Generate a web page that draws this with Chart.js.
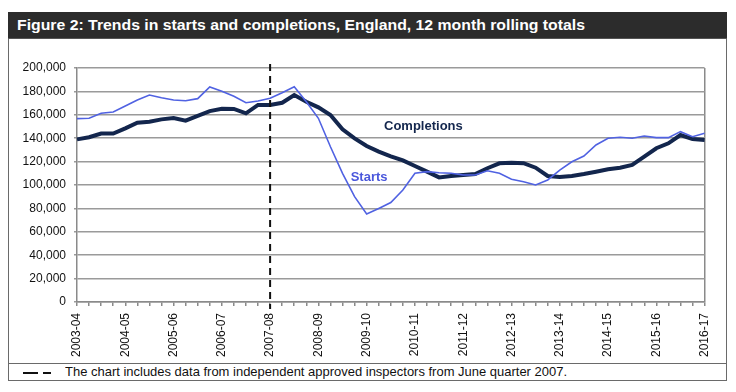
<!DOCTYPE html>
<html>
<head>
<meta charset="utf-8">
<script src="https://cdn.jsdelivr.net/npm/chart.js@4.4.0/dist/chart.umd.min.js"></script>
<style>
    body { margin: 0; background: #fff; width: 736px; height: 392px; overflow: hidden; font-family: "Liberation Sans", Arial, sans-serif; }
    #frame { position: absolute; left: 8px; top: 12px; width: 717px; height: 367px; border: 1px solid #6a6a6a; }
    #titleBar { position: absolute; left: 8px; top: 12px; width: 719px; height: 26px; background: #2c2c2c; border-bottom: 1px solid #555; }
    #titleText { position: absolute; left: 17px; top: 16px; color: #fff; font-weight: bold; font-size: 15px; white-space: nowrap; transform-origin: 0 0; }
    #divider { position: absolute; left: 8px; top: 363px; width: 719px; height: 0; border-top: 1px solid #6a6a6a; }
    #note { position: absolute; left: 65px; top: 364px; font-size: 13px; color: #111; white-space: nowrap; transform-origin: 0 0; }
    .dash { position: absolute; top: 372px; height: 2px; background: #111; }
    #chartBox { position: absolute; left: 9px; top: 38px; }
</style>
</head>
<body>
<div id="frame"></div>
<div id="titleBar"></div>
<div id="titleText">Figure 2: Trends in starts and completions, England, 12 month rolling totals</div>
<div id="chartBox"><canvas id="trendChart" width="717" height="325"></canvas></div>
<div id="divider"></div>
<div class="dash" style="left:23px;width:15px"></div>
<div class="dash" style="left:43px;width:8px"></div>
<div id="note">The chart includes data from independent approved inspectors from June quarter 2007.</div>
<script>
// financial years, one tick label every four quarters
const yearLabels = ['2003-04', '2004-05', '2005-06', '2006-07', '2007-08', '2008-09', '2009-10',
    '2010-11', '2011-12', '2012-13', '2013-14', '2014-15', '2015-16', '2016-17'];

// 12 month rolling totals, quarterly
const completions = [
    139000, 140800, 144000, 144000, 148400, 153300, 154000, 156100, 157300, 155000,
    159000, 163200, 165200, 165000, 161300, 168400, 168400, 170300, 176900, 171200,
    166400, 159800, 147600, 139900, 133300, 128500, 124500, 121000, 116200, 111400,
    106500, 107700, 108500, 109400, 114300, 118500, 119000, 118600, 114800, 107700,
    106800, 107700, 109400, 111400, 113400, 114800, 117100, 124200, 131400, 135600,
    142700, 139300, 138500
];
const starts = [
    156700, 157000, 161300, 162400, 167500, 172600, 176900, 174600, 172600, 172000,
    173800, 183800, 180200, 175800, 170300, 171800, 174100, 178900, 184000, 171200,
    157000, 132700, 110000, 90000, 75200, 80000, 85000, 95700, 110000, 111400,
    110500, 110000, 108500, 108500, 112200, 110000, 104900, 102800, 100000, 104300,
    112800, 119900, 124800, 134200, 139900, 140800, 139900, 141900, 140500, 140500,
    145600, 141300, 144200
];

const quarterLabels = completions.map((v, i) => yearLabels[Math.floor(i / 4)] + ' Q' + (i % 4 + 1));
const aiStartIndex = 16; // June quarter 2007

const seriesNotes = [
    { text: 'Completions', index: 28.7, value: 150400, color: '#13264d' },
    { text: 'Starts', index: 24.2, value: 106800, color: '#4a57dc' }
];

function fitWidth(id, target) {
    const el = document.getElementById(id);
    const w = el.getBoundingClientRect().width;
    el.style.transform = 'scaleX(' + (target / w) + ')';
}
fitWidth('titleText', 568);
fitWidth('note', 502);

const overlay = {
    id: 'overlay',
    afterDatasetsDraw(chart) {
        const { ctx, chartArea, scales } = chart;
        const x = scales.x.getPixelForValue(aiStartIndex);
        ctx.save();
        ctx.strokeStyle = '#111';
        ctx.lineWidth = 2;
        ctx.setLineDash([7, 5]);
        ctx.beginPath();
        ctx.moveTo(x, chartArea.top - 4);
        ctx.lineTo(x, chartArea.bottom + 7);
        ctx.stroke();
        ctx.setLineDash([]);
        ctx.font = 'bold 13px "Liberation Sans", Arial, sans-serif';
        ctx.textAlign = 'center';
        ctx.textBaseline = 'middle';
        seriesNotes.forEach(n => {
            const left = scales.x.getPixelForValue(Math.floor(n.index));
            const right = scales.x.getPixelForValue(Math.floor(n.index) + 1);
            const px = left + (right - left) * (n.index - Math.floor(n.index));
            ctx.fillStyle = n.color;
            ctx.fillText(n.text, px, scales.y.getPixelForValue(n.value));
        });
        ctx.restore();
    }
};

const lastIndex = quarterLabels.length - 1;

new Chart(document.getElementById('trendChart').getContext('2d'), {
    type: 'line',
    data: {
        labels: quarterLabels,
        datasets: [
            { label: 'Starts', data: starts, borderColor: '#5062e2', borderWidth: 1.6, pointRadius: 0, tension: 0, fill: false },
            { label: 'Completions', data: completions, borderColor: '#13264d', borderWidth: 4, pointRadius: 0, tension: 0, fill: false }
        ]
    },
    options: {
        responsive: false,
        animation: false,
        devicePixelRatio: 1,
        layout: { padding: { top: 30, right: 21, left: 0, bottom: 0 } },
        plugins: { legend: { display: false }, tooltip: { enabled: false } },
        scales: {
            x: {
                ticks: {
                    autoSkip: false,
                    minRotation: 90,
                    maxRotation: 90,
                    padding: 7,
                    color: '#111',
                    font: { size: 12, family: '"Liberation Sans", Arial, sans-serif' },
                    callback: (v, i) => (i % 4 === 0 ? yearLabels[i / 4] : '')
                },
                grid: {
                    color: ctx => (ctx.index === lastIndex ? '#8a8a8a' : 'transparent'),
                    lineWidth: 1.5,
                    tickColor: '#8a8a8a',
                    tickLength: 4
                },
                border: { color: '#8a8a8a', width: 1.5 },
                afterFit: s => { s.height = 61; }
            },
            y: {
                min: 0,
                max: 200000,
                ticks: {
                    stepSize: 20000,
                    padding: 8,
                    color: '#111',
                    font: { size: 12, family: '"Liberation Sans", Arial, sans-serif' },
                    callback: v => v.toLocaleString('en-US')
                },
                grid: { color: '#9a9a9a', lineWidth: 1.5, tickLength: 3 },
                border: { color: '#8a8a8a', width: 1.5 },
                afterFit: s => { s.width = 68; }
            }
        }
    },
    plugins: [overlay]
});
</script>
</body>
</html>
